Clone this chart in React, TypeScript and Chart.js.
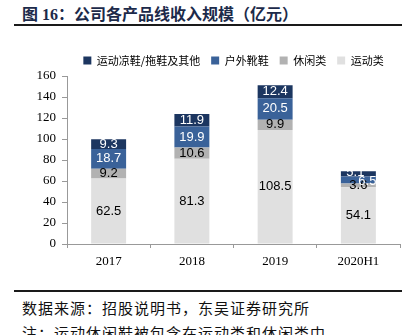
import React, { useEffect, useRef } from "react";
import { Chart, registerables } from "chart.js";

Chart.register(...registerables);

const categories = ["2017", "2018", "2019", "2020H1"];
const sportValues = [62.5, 81.3, 108.5, 54.1];
const casualValues = [9.2, 10.6, 9.9, 3.6];
const outdoorValues = [18.7, 19.9, 20.5, 6.5];
const sandalValues = [9.3, 11.9, 12.4, 5.1];
const yTicks = [0, 20, 40, 60, 80, 100, 120, 140, 160];

const seriesNames = ["运动类", "休闲类", "户外靴鞋", "运动凉鞋/拖鞋及其他"];
const seriesColors = ["#e0e0e0", "#b2b2b2", "#3a6299", "#1c3660"];
const labelColors = ["#000000", "#000000", "#ffffff", "#ffffff"];

const labelPlugin = {
  id: "segLabels",
  afterDatasetsDraw(chart: any) {
    const ctx = chart.ctx;
    ctx.save();
    ctx.font = "13px 'Liberation Sans', Arial, sans-serif";
    ctx.textAlign = "center";
    ctx.textBaseline = "middle";
    chart.data.datasets.forEach((ds: any, di: number) => {
      const meta = chart.getDatasetMeta(di);
      meta.data.forEach((bar: any, i: number) => {
        const v = ds.data[i];
        const h = Math.abs(bar.base - bar.y);
        let x = bar.x;
        let y = (bar.y + bar.base) / 2;
        if (h < 9 && di === 2) {
          x += 9;
          y += 1;
        }
        if (h < 9 && di === 3) {
          x -= 3;
          y -= 1;
        }
        ctx.fillStyle = labelColors[di];
        ctx.fillText(v.toFixed(1), x, y);
      });
    });
    ctx.restore();
  },
};

export default function App() {
  const ref = useRef<HTMLCanvasElement>(null);
  useEffect(() => {
    if (!ref.current) return;
    const datasets = [sportValues, casualValues, outdoorValues, sandalValues].map((d, i) => ({
      label: seriesNames[i],
      data: d,
      backgroundColor: seriesColors[i],
      borderWidth: 0,
      categoryPercentage: 0.5,
      barPercentage: 0.84,
    }));
    const chart = new Chart(ref.current, {
      type: "bar",
      data: { labels: categories, datasets },
      options: {
        animation: false,
        responsive: false,
        maintainAspectRatio: false,
        layout: { padding: { top: 4, right: 11, left: 0, bottom: 0 } },
        plugins: {
          legend: {
            position: "top",
            fullSize: false,
            reverse: true,
            labels: {
              boxWidth: 8,
              boxHeight: 8,
              padding: 11,
              color: "#000",
              font: { family: "'Noto Sans CJK SC'", size: 11 },
            },
          },
          tooltip: { enabled: false },
        },
        scales: {
          x: {
            stacked: true,
            grid: {
              display: true,
              offset: true,
              drawOnChartArea: false,
              drawTicks: true,
              tickLength: 4,
              color: "#999",
            },
            border: { color: "#999", width: 1 },
            ticks: {
              color: "#000",
              padding: 6,
              font: { family: "'Liberation Serif', serif", size: 13 },
            },
            afterFit(s: any) {
              s.height = 36;
            },
          },
          y: {
            stacked: true,
            min: 0,
            max: 160,
            afterBuildTicks(s: any) {
              s.ticks = yTicks.map((v) => ({ value: v }));
            },
            grid: {
              display: true,
              drawOnChartArea: false,
              drawTicks: true,
              tickLength: 5,
              color: "#999",
            },
            border: { color: "#999", width: 1 },
            ticks: {
              color: "#000",
              padding: 6,
              font: { family: "'Liberation Serif', serif", size: 13 },
            },
            afterFit(s: any) {
              s.width = 67;
            },
          },
        },
      },
      plugins: [labelPlugin],
    });
    return () => chart.destroy();
  }, []);

  return (
    <div
      style={{
        position: "fixed",
        left: 0,
        top: 0,
        width: 411,
        height: 335,
        background: "#fff",
        overflow: "hidden",
      }}
    >
      <div
        style={{
          position: "absolute",
          left: 22,
          top: 5,
          fontFamily: "'Liberation Serif', 'Noto Sans CJK SC'",
          fontWeight: 700,
          fontSize: 16,
          color: "#1c2a4a",
          whiteSpace: "nowrap",
          lineHeight: "20px",
        }}
      >
        图 16：公司各产品线收入规模（亿元）
      </div>
      <div
        style={{
          position: "absolute",
          left: 14,
          top: 24,
          width: 388,
          height: 2,
          background: "#1a1a1a",
        }}
      />
      <canvas
        ref={ref}
        width={411}
        height={240}
        style={{ position: "absolute", left: 0, top: 40, width: 411, height: 240 }}
      />
      <div
        style={{
          position: "absolute",
          left: 14,
          top: 290,
          width: 388,
          height: 1.5,
          background: "#1a1a1a",
        }}
      />
      <div
        style={{
          position: "absolute",
          left: 22,
          top: 298,
          fontFamily: "'Noto Sans CJK SC'",
          fontSize: 15,
          letterSpacing: 1,
          color: "#111",
          whiteSpace: "nowrap",
          lineHeight: "20px",
        }}
      >
        数据来源：招股说明书，东吴证券研究所
      </div>
      <div
        style={{
          position: "absolute",
          left: 22,
          top: 323,
          fontFamily: "'Noto Sans CJK SC'",
          fontSize: 15,
          letterSpacing: 1,
          color: "#111",
          whiteSpace: "nowrap",
          lineHeight: "20px",
        }}
      >
        注：运动休闲鞋被包含在运动类和休闲类中
      </div>
    </div>
  );
}
